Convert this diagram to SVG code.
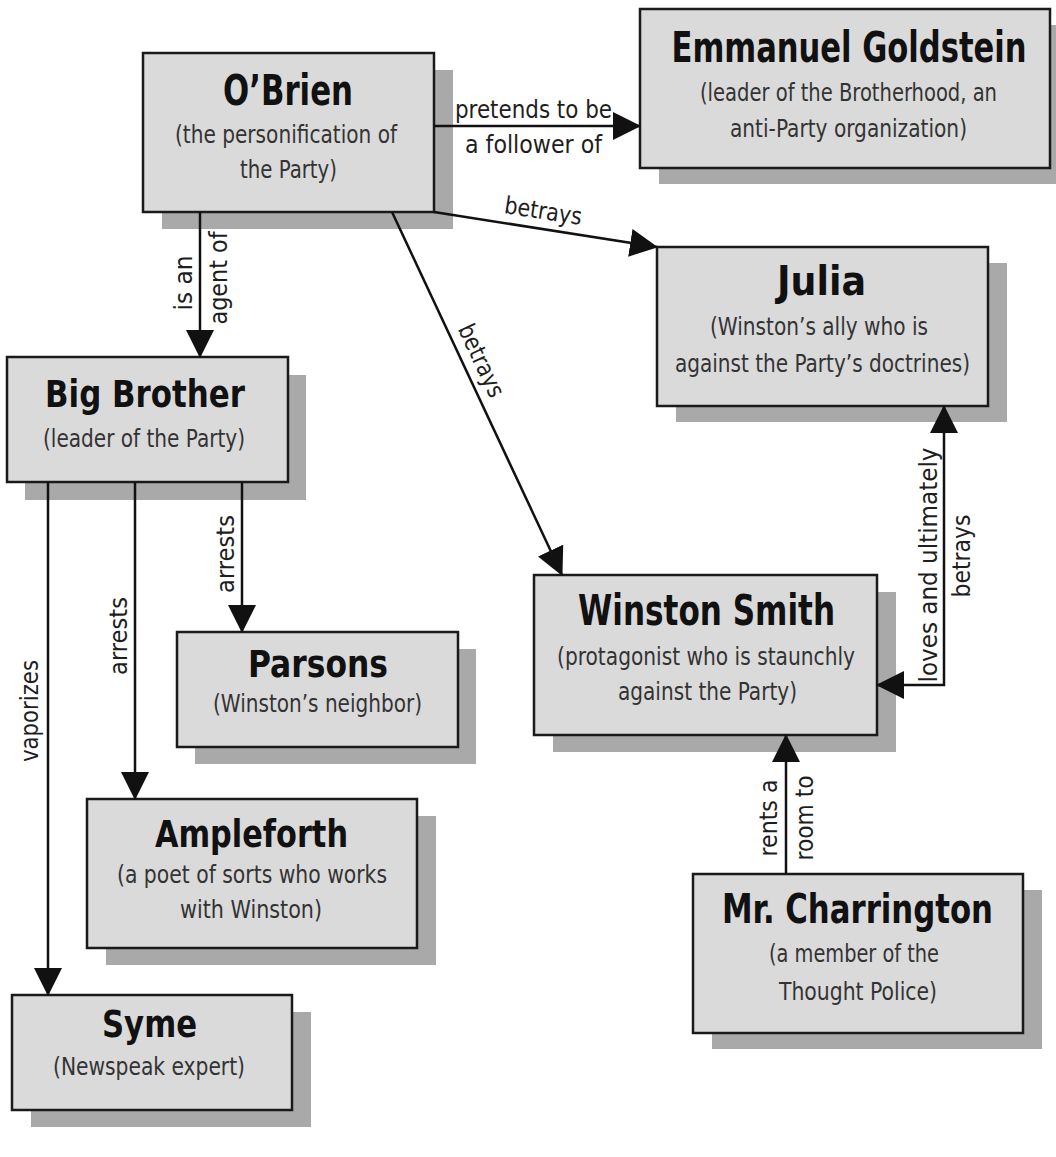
<svg xmlns="http://www.w3.org/2000/svg" width="1056" height="1157" viewBox="0 0 1056 1157">
<style>
.bg{fill:#ffffff}
.shadow{fill:#a9a9a9}
.box{fill:#dadada;stroke:#1a1a1a;stroke-width:2.5}
.title{font-family:"Liberation Sans Narrow","DejaVu Sans Condensed","Liberation Sans",sans-serif;font-weight:bold;fill:#111;text-anchor:middle}
.sub{font-family:"Liberation Sans Narrow","DejaVu Sans Condensed","Liberation Sans",sans-serif;font-size:25px;fill:#333;text-anchor:middle}
.lbl{font-family:"Liberation Sans Narrow","DejaVu Sans Condensed","Liberation Sans",sans-serif;font-size:24px;fill:#1e1e1e;text-anchor:middle}
.conn{stroke:#111;stroke-width:2.5;fill:none;marker-end:url(#ah)}
.both{marker-start:url(#ah)}
</style>
<defs>
<marker id="ah" markerUnits="userSpaceOnUse" markerWidth="28" markerHeight="28" viewBox="0 0 28 28" refX="27" refY="14" orient="auto-start-reverse">
<path d="M0,0 L28,14 L0,28 z" fill="#111"/>
</marker>
</defs>
<rect class="bg" x="0" y="0" width="1056" height="1157"/>

<g id="node-obrien">
<rect class="shadow" x="162" y="70" width="291" height="159"/>
<rect class="box" x="143" y="53" width="291" height="159"/>
<text class="title" x="288" y="105" font-size="42" textLength="130" lengthAdjust="spacingAndGlyphs">O’Brien</text>
<text class="sub" x="286" y="143" textLength="222" lengthAdjust="spacingAndGlyphs">(the personification of</text>
<text class="sub" x="288.5" y="178" textLength="97" lengthAdjust="spacingAndGlyphs">the Party)</text>
</g>

<g id="node-goldstein">
<rect class="shadow" x="659" y="25" width="397" height="159"/>
<rect class="box" x="640" y="9" width="410" height="159"/>
<text class="title" transform="translate(849,62) scale(0.8,1)" x="0" y="0" font-size="42" textLength="443.75" lengthAdjust="spacingAndGlyphs">Emmanuel Goldstein</text>
<text class="sub" x="848.5" y="101" textLength="297" lengthAdjust="spacingAndGlyphs">(leader of the Brotherhood, an</text>
<text class="sub" x="848.5" y="137" textLength="237" lengthAdjust="spacingAndGlyphs">anti-Party organization)</text>
</g>

<g id="node-julia">
<rect class="shadow" x="676" y="263" width="331" height="159"/>
<rect class="box" x="657" y="247" width="331" height="159"/>
<text class="title" x="821.5" y="295" font-size="40" textLength="89" lengthAdjust="spacingAndGlyphs">Julia</text>
<text class="sub" x="819" y="335" textLength="218" lengthAdjust="spacingAndGlyphs">(Winston’s ally who is</text>
<text class="sub" x="822.5" y="372" textLength="295" lengthAdjust="spacingAndGlyphs">against the Party’s doctrines)</text>
</g>

<g id="node-bigbrother">
<rect class="shadow" x="25" y="375" width="281" height="125"/>
<rect class="box" x="7" y="357" width="281" height="125"/>
<text class="title" x="145" y="407" font-size="37" textLength="200" lengthAdjust="spacingAndGlyphs">Big Brother</text>
<text class="sub" x="144" y="447" textLength="202" lengthAdjust="spacingAndGlyphs">(leader of the Party)</text>
</g>

<g id="node-parsons">
<rect class="shadow" x="195" y="649" width="281" height="115"/>
<rect class="box" x="177" y="632" width="281" height="115"/>
<text class="title" x="318" y="677" font-size="37" textLength="140" lengthAdjust="spacingAndGlyphs">Parsons</text>
<text class="sub" x="317.5" y="712" textLength="209" lengthAdjust="spacingAndGlyphs">(Winston’s neighbor)</text>
</g>

<g id="node-ampleforth">
<rect class="shadow" x="106" y="816" width="330" height="149"/>
<rect class="box" x="87" y="799" width="330" height="149"/>
<text class="title" x="251.5" y="847" font-size="37" textLength="193" lengthAdjust="spacingAndGlyphs">Ampleforth</text>
<text class="sub" x="252" y="883" textLength="270" lengthAdjust="spacingAndGlyphs">(a poet of sorts who works</text>
<text class="sub" x="251" y="918" textLength="142" lengthAdjust="spacingAndGlyphs">with Winston)</text>
</g>

<g id="node-syme">
<rect class="shadow" x="31" y="1012" width="280" height="115"/>
<rect class="box" x="12" y="995" width="280" height="115"/>
<text class="title" x="149.5" y="1037" font-size="37" textLength="95" lengthAdjust="spacingAndGlyphs">Syme</text>
<text class="sub" x="149" y="1075" textLength="192" lengthAdjust="spacingAndGlyphs">(Newspeak expert)</text>
</g>

<g id="node-winston">
<rect class="shadow" x="553" y="592" width="343" height="160"/>
<rect class="box" x="534" y="575" width="343" height="160"/>
<text class="title" x="706.5" y="625" font-size="42" textLength="257" lengthAdjust="spacingAndGlyphs">Winston Smith</text>
<text class="sub" x="706" y="665" textLength="298" lengthAdjust="spacingAndGlyphs">(protagonist who is staunchly</text>
<text class="sub" x="707.5" y="700" textLength="179" lengthAdjust="spacingAndGlyphs">against the Party)</text>
</g>

<g id="node-charrington">
<rect class="shadow" x="712" y="890" width="330" height="159"/>
<rect class="box" x="693" y="874" width="330" height="159"/>
<text class="title" x="857.5" y="923" font-size="40" textLength="271" lengthAdjust="spacingAndGlyphs">Mr. Charrington</text>
<text class="sub" x="854" y="962" textLength="170" lengthAdjust="spacingAndGlyphs">(a member of the</text>
<text class="sub" x="858" y="1000" textLength="158" lengthAdjust="spacingAndGlyphs">Thought Police)</text>
</g>

<g id="connectors">
<line class="conn" x1="434" y1="126" x2="640" y2="126"/>
<text class="lbl" x="533.5" y="118" textLength="157" lengthAdjust="spacingAndGlyphs">pretends to be</text>
<text class="lbl" x="533.5" y="153" textLength="137" lengthAdjust="spacingAndGlyphs">a follower of</text>

<line class="conn" x1="434" y1="212" x2="657" y2="247"/>
<text class="lbl" transform="translate(542,219) rotate(8.9)" textLength="78" lengthAdjust="spacingAndGlyphs">betrays</text>

<line class="conn" x1="392" y1="212" x2="562" y2="575"/>
<text class="lbl" transform="translate(474,364) rotate(64.9)" textLength="78" lengthAdjust="spacingAndGlyphs">betrays</text>

<line class="conn" x1="200" y1="212" x2="200" y2="357"/>
<text class="lbl" transform="translate(192,283) rotate(-90)" textLength="55" lengthAdjust="spacingAndGlyphs">is an</text>
<text class="lbl" transform="translate(227,278) rotate(-90)" textLength="93" lengthAdjust="spacingAndGlyphs">agent of</text>

<line class="conn" x1="242" y1="482" x2="242" y2="632"/>
<text class="lbl" transform="translate(234,554) rotate(-90)" textLength="78" lengthAdjust="spacingAndGlyphs">arrests</text>

<line class="conn" x1="135" y1="482" x2="135" y2="799"/>
<text class="lbl" transform="translate(127,636) rotate(-90)" textLength="78" lengthAdjust="spacingAndGlyphs">arrests</text>

<line class="conn" x1="48" y1="482" x2="48" y2="995"/>
<text class="lbl" transform="translate(38,711) rotate(-90)" textLength="102" lengthAdjust="spacingAndGlyphs">vaporizes</text>

<line class="conn" x1="786" y1="874" x2="786" y2="735"/>
<text class="lbl" transform="translate(777,818) rotate(-90)" textLength="77" lengthAdjust="spacingAndGlyphs">rents a</text>
<text class="lbl" transform="translate(813,818) rotate(-90)" textLength="85" lengthAdjust="spacingAndGlyphs">room to</text>

<polyline class="conn both" points="877,685 944,685 944,406"/>
<text class="lbl" transform="translate(937,565) rotate(-90)" textLength="235" lengthAdjust="spacingAndGlyphs">loves and ultimately</text>
<text class="lbl" transform="translate(970,556) rotate(-90)" textLength="83" lengthAdjust="spacingAndGlyphs">betrays</text>
</g>
</svg>
